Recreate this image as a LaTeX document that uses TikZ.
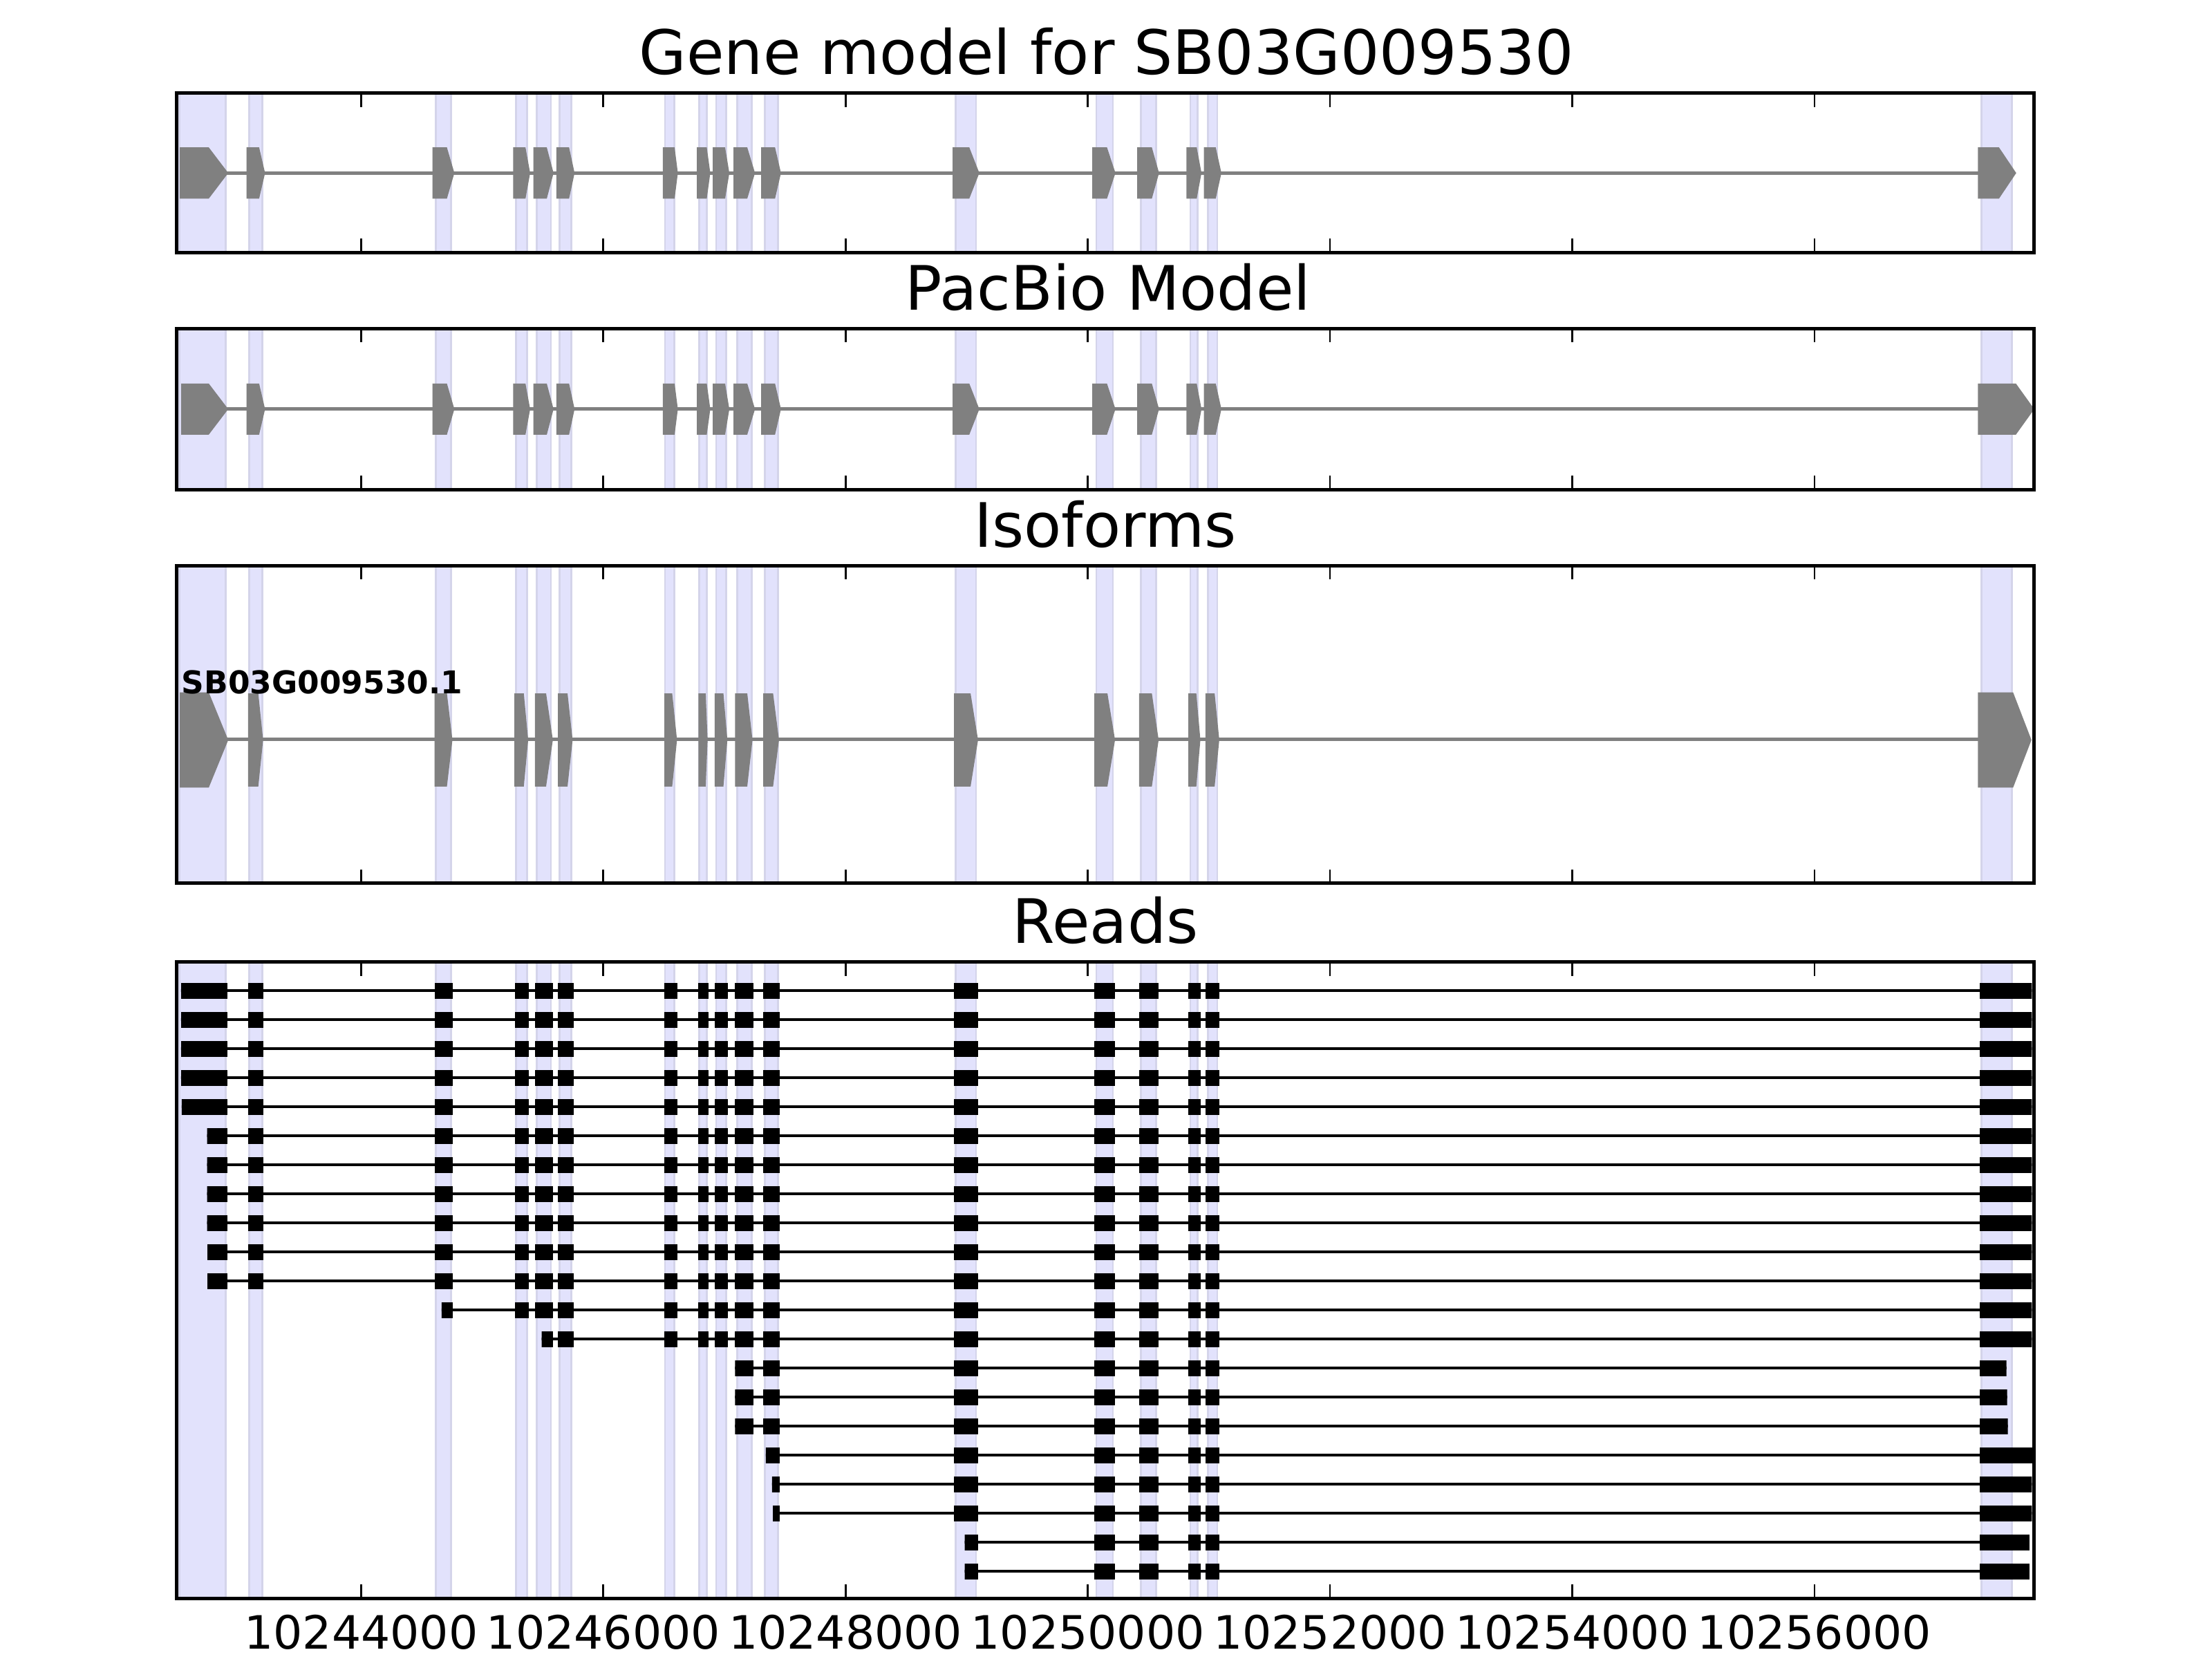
\documentclass[tikz,border=0pt]{standalone}
\usepackage{fontspec}
\setmainfont{DejaVu Sans}
\usetikzlibrary{positioning}
\definecolor{exongray}{RGB}{128,128,128}
\definecolor{bandfill}{RGB}{226,226,252}
\definecolor{bandedge}{RGB}{212,212,234}

\tikzset{
  panel/.style={draw=black, line width=0.9pt},
  band/.style={fill=bandfill, draw=bandedge, line width=0.5pt},
  exonfill/.style={fill=exongray},
  intron/.style={draw=exongray, line width=0.9pt},
  readline/.style={draw=black, line width=0.75pt},
  readblock/.style={fill=black},
  tickmark/.style={draw=black, line width=0.5pt},
  paneltitle/.style={font=\fontsize{16}{19}\selectfont, anchor=base, inner sep=0pt},
  ticklabel/.style={font=\fontsize{12}{14}\selectfont, anchor=base, inner sep=0pt},
  isolabel/.style={font=\fontsize{8.2}{10}\selectfont\bfseries, anchor=base west, inner sep=0pt}
}

% exon arrow: left, body end, tip, top, bottom
\newcommand{\genexon}[5]{\fill[exonfill] (#1,#4) -- (#2,#4) -- (#3,{(#4+#5)/2}) -- (#2,#5) -- (#1,#5) -- cycle;}

\begin{document}
\begin{tikzpicture}[x=0.012959cm, y=-0.012959cm]
        \useasboundingbox (0,0) rectangle (1568,1176);

        % Shaded exon bands in every panel
        \foreach \top/\bot in {66/179, 233/347, 401/626, 682/1133} {
            \foreach \bl/\br in {127/159.8, 176.7/186.0, 308.9/319.6, 365.7/373.6, 380.6/390.5, 396.6/405.1, 471.4/478.1, 495.8/500.9, 507.6/514.7, 522.6/533.0, 542.3/551.5, 677.3/691.9, 777.1/788.9, 808.9/819.6, 843.8/848.9, 856.2/862.9, 1404.7/1426.2}
                {\filldraw[band] (\bl,\top) rectangle (\br,\bot);}
        }

        % Gene model
        \draw[intron] (160,122.6) -- (1405,122.6);
        \genexon{127.5}{148}{161.8}{104.5}{140.8}
        \foreach \a/\b/\c in {174.7/183.7/187.9, 306.6/316.8/322.1, 363.7/372.5/375.8, 378.1/387.6/392.4, 394.4/403.4/407.3, 469.8/478.2/480.5, 494.0/501.0/503.5, 505.2/514.0/517.0, 519.9/529.7/535.2, 539.6/549.4/553.6, 675.3/687.1/694.2, 774.3/784.7/790.7, 806.1/816.5/821.6, 841.0/848.3/851.7, 853.4/861.8/865.8}
            {\genexon{\a}{\b}{\c}{104.5}{140.8}}
        \genexon{1402}{1417}{1429.2}{104.5}{140.8}

        % PacBio model
        \draw[intron] (160,290) -- (1405,290);
        \genexon{128.5}{148}{161.8}{271.9}{308.1}
        \foreach \a/\b/\c in {174.7/183.7/187.9, 306.6/316.8/322.1, 363.7/372.5/375.8, 378.1/387.6/392.4, 394.4/403.4/407.3, 469.8/478.2/480.5, 494.0/501.0/503.5, 505.2/514.0/517.0, 519.9/529.7/535.2, 539.6/549.4/553.6, 675.3/687.1/694.2, 774.3/784.7/790.7, 806.1/816.5/821.6, 841.0/848.3/851.7, 853.4/861.8/865.8}
            {\genexon{\a}{\b}{\c}{271.9}{308.1}}
        \genexon{1402}{1429}{1442}{271.9}{308.1}

        % Isoforms
        \draw[intron] (160,524) -- (1405,524);
        \genexon{127.5}{148}{161.8}{490.8}{558.3}
        \foreach \a/\b/\c in {175.8/183.1/186.5, 308.0/316.8/320.7, 364.6/371.3/374.4, 379.2/387.1/391.9, 395.5/402.3/405.9, 470.9/476.5/479.9, 495.1/500.2/501.6, 506.6/512.8/515.6, 521.0/529.7/533.4, 541.0/548.0/552.2, 676.2/688.0/693.3, 775.7/785.0/790.4, 807.5/816.5/821.3, 842.4/848.0/850.9, 854.5/861.0/864.3}
            {\genexon{\a}{\b}{\c}{491.5}{557.5}}
        \genexon{1402}{1427}{1440}{490.8}{558.3}
        \node[isolabel] (isoname) at (128.3,491.5) {SB03G009530.1};

        % Reads
        \foreach \r/\s/\e in {1/128.3/1440.3, 2/128.3/1440.3, 3/128.3/1440.3, 4/128.3/1440.3, 5/128.8/1440.3, 6/146.8/1440.3, 7/146.8/1440.3, 8/146.8/1440.3, 9/146.8/1440.3, 10/147.1/1440.3, 11/147.1/1440.3, 12/313.1/1440.3, 13/384.0/1440.3, 14/521.1/1422.3, 15/521.1/1422.8, 16/521.1/1423.3, 17/542.8/1441.0, 18/547.3/1440.3, 19/547.9/1440.3, 20/683.8/1438.5, 21/683.8/1438.5} {
            \pgfmathsetmacro{\ry}{702.3+(\r-1)*20.58}
            \begin{scope}
                \clip (\s,\ry-6) rectangle (\e,\ry+6);
                \draw[readline] (120,\ry) -- (1450,\ry);
                \foreach \bl/\br in {128.3/161.2, 176.1/186.5, 308.0/320.7, 365.1/375.0, 379.2/392.1, 395.5/406.5, 471.0/480.2, 495.1/502.2, 506.6/515.8, 521.1/534.0, 541.1/552.6, 676.2/693.3, 775.7/790.4, 807.5/821.3, 842.4/850.9, 854.5/864.3, 1403.5/1441.0}
                    {\fill[readblock] (\bl,\ry-5.6) rectangle (\br,\ry+5.6);}
            \end{scope}
        }

        % Panel frames and ticks
        \foreach \top/\bot in {66/179, 233/347, 401/626, 682/1133} {
            \foreach \t in {256,427.7,599.4,771.1,942.8,1114.5,1286.2} {
                \draw[tickmark] (\t,\top) -- (\t,\top+9.8);
                \draw[tickmark] (\t,\bot) -- (\t,\bot-9.8);
            }
            \draw[panel] (125,\top) rectangle (1442,\bot);
        }

        % Titles
        \node[paneltitle] (genetitle) at (784.5,52.6) {Gene model for SB03G009530};
        \node[paneltitle] (pacbiotitle) at (785.5,219.6) {PacBio Model};
        \node[paneltitle] (isotitle) at (783.5,387.6) {Isoforms};
        \node[paneltitle] (readstitle) at (783.5,668.6) {Reads};

        % Axis labels
        \foreach \t/\lab in {256/10244000, 427.7/10246000, 599.4/10248000, 771.1/10250000, 942.8/10252000, 1114.5/10254000, 1286.2/10256000}
            {\node[ticklabel] (tick\lab) at (\t,1169) {\lab};}
\end{tikzpicture}
\end{document}
